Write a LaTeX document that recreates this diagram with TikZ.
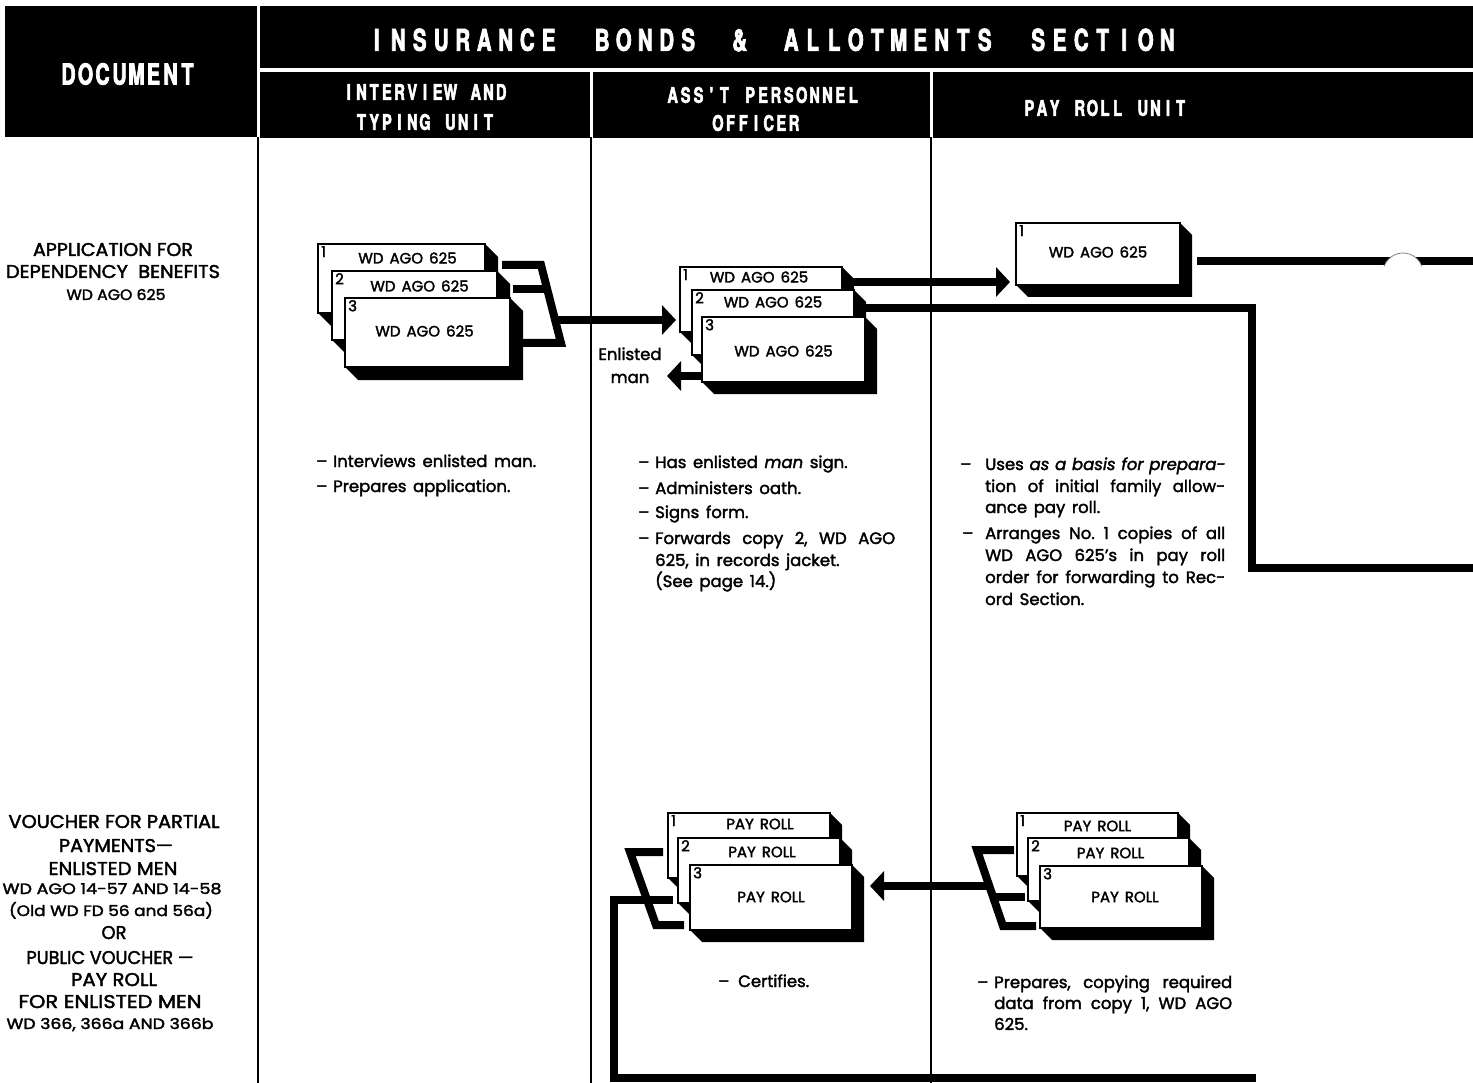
\documentclass[tikz,border=0pt]{standalone}
\usepackage{graphicx}
\usepackage{fontspec}
\setmainfont{Poppins}[FakeBold=2.0]
\newfontfamily\hdfont{TeX Gyre Heros}[FakeStretch=0.68, FakeBold=2.4]
\usetikzlibrary{arrows.meta,calc}
\frenchspacing

% evenly pitched capitals for the black header bands
\newlength\hdpitch
\def\hdspl#1{\ifx#1\relax\else\makebox[\hdpitch][c]{#1}\expandafter\hdspl\fi}
\newcommand\hdword[1]{\hdspl#1\relax}

% wider word spaces, as in the printed forms
\newcommand\widespaces{\spaceskip=0.4em plus 0.3em minus 0.05em\relax}
% a caption stretched sideways to a set width
\newcommand\tow[2]{\resizebox{#1pt}{\height}{#2}}

% one form sheet: black slab behind, white face, copy number and title
\newcommand\sheetdepth{12}
\newcommand\docsheet[8]{%
  \fill[black] (#2,#3) -- (#2+#4,#3) -- (#2+#4+\sheetdepth,#3+\sheetdepth)
    -- (#2+#4+\sheetdepth,#3+#5+\sheetdepth) -- (#2+\sheetdepth,#3+#5+\sheetdepth)
    -- (#2,#3+#5) -- cycle;
  \node[sheet, minimum width=#4pt, minimum height=#5pt, anchor=north west] (#1) at (#2,#3) {};
  \node[sheetnum] (#1-n) at (#1.north west) {#6};
  \node[sheettxt] (#1-t) at ($(#1.north)+(#8)$) {#7};
}

\tikzset{
  hdtxt/.style={text=white, font=\hdfont\bfseries, inner sep=0pt},
  sheet/.style={draw, fill=white, line width=1.4pt, inner sep=0pt, outer sep=0pt},
  sheetnum/.style={anchor=north west, inner sep=2pt, xshift=1pt, font=\fontsize{15}{15}\selectfont},
  sheettxt/.style={inner sep=0pt, font=\fontsize{15}{15}\selectfont\widespaces},
  bar/.style={line width=8pt, line join=miter, line cap=butt},
  barrow/.style={bar, -{Triangle[length=14pt,width=29pt]}},
  colline/.style={line width=2pt},
  txt/.style={anchor=base west, inner sep=0pt, font=\fontsize{16.5}{18}\selectfont\widespaces},
  doclbl/.style={anchor=base, inner sep=0pt, font=\fontsize{18.5}{18.5}\selectfont},
  docsub/.style={anchor=base, inner sep=0pt, font=\fontsize{15}{15}\selectfont},
}

\begin{document}
\begin{tikzpicture}[x=1pt,y=-1pt]
\useasboundingbox (0,0) rectangle (1473,1083);
\fill[white] (0,0) rectangle (1473,1083);

% ---------- header bands ----------
\fill (5,6) rectangle (257,137);
\fill (260,6) rectangle (1473,68);
\fill (260,72) rectangle (590,138);
\fill (593,72) rectangle (930,138);
\fill (933,72) rectangle (1473,138);

\node[hdtxt] (hdDoc) at (128,74)
  {\fontsize{29}{29}\selectfont\setlength\hdpitch{17pt}\hdword{DOCUMENT}};
\node[hdtxt] (hdTitle) at (772,40)
  {\fontsize{30}{30}\selectfont\setlength\hdpitch{21.5pt}%
   \hdword{INSURANCE}\hspace{32pt}\hdword{BONDS}\hspace{30pt}\hdword{\&}\hspace{30pt}%
   \hdword{ALLOTMENTS}\hspace{32pt}\hdword{SECTION}};
\node[hdtxt] (hdIntA) at (425,92)
  {\fontsize{21.5}{21.5}\selectfont\setlength\hdpitch{12.7pt}\hdword{INTERVIEW}\hspace{\hdpitch}\hdword{AND}};
\node[hdtxt] (hdIntB) at (425,122)
  {\fontsize{21.5}{21.5}\selectfont\setlength\hdpitch{12.7pt}\hdword{TYPING}\hspace{\hdpitch}\hdword{UNIT}};
\node[hdtxt] (hdAsstA) at (763,95)
  {\fontsize{21.5}{21.5}\selectfont\setlength\hdpitch{12.9pt}\hdword{ASS'T}\hspace{\hdpitch}\hdword{PERSONNEL}};
\node[hdtxt] (hdAsstB) at (756,123)
  {\fontsize{21.5}{21.5}\selectfont\setlength\hdpitch{12.7pt}\hdword{OFFICER}};
\node[hdtxt] (hdPay) at (1105,108)
  {\fontsize{21.5}{21.5}\selectfont\setlength\hdpitch{12.6pt}\hdword{PAY}\hspace{\hdpitch}\hdword{ROLL}\hspace{\hdpitch}\hdword{UNIT}};

% ---------- column rules ----------
\draw[colline] (258,137) -- (258,1083);
\draw[colline] (591,137) -- (591,1083);
\draw[colline] (931,137) -- (931,1083);

% ---------- document names ----------
\node[doclbl] (appA) at (113,256) {\tow{160}{APPLICATION FOR}};
\node[doclbl] (appB) at (113,278) {\tow{214}{DEPENDENCY\ \ BENEFITS}};
\node[docsub] (appC) at (116,300) {\tow{99}{WD AGO 625}};

\node[doclbl] (vA) at (114,828) {\tow{211}{VOUCHER FOR PARTIAL}};
\node[doclbl] (vB) at (116,852) {\tow{114}{PAYMENTS—}};
\node[doclbl] (vC) at (113,875) {\tow{129}{ENLISTED MEN}};
\node[docsub] (vD) at (112,894) {\tow{219}{WD AGO 14-57 AND 14-58}};
\node[docsub] (vE) at (111,916) {\tow{204}{(Old WD FD 56 and 56a)}};
\node[doclbl] (vF) at (114,939) {\tow{25}{OR}};
\node[doclbl] (vG) at (110,964) {\tow{167}{PUBLIC VOUCHER —}};
\node[doclbl] (vH) at (114,986) {\tow{86}{PAY ROLL}};
\node[doclbl] (vI) at (110,1008) {\tow{183}{FOR ENLISTED MEN}};
\node[docsub] (vJ) at (110,1029) {\tow{207}{WD 366, 366a AND 366b}};

% ---------- WD AGO 625 copies ----------
\renewcommand\sheetdepth{13}
\docsheet{a1}{318}{244}{167}{69}{1}{WD AGO 625}{6,14}
\docsheet{a2}{332}{271}{165}{69}{2}{WD AGO 625}{5,15}
\docsheet{a3}{345}{298}{165}{69}{3}{WD AGO 625}{-3,33}

\renewcommand\sheetdepth{12}
\docsheet{b1}{680}{267}{162}{65}{1}{WD AGO 625}{-2,10}
\docsheet{b2}{692}{290}{162}{65}{2}{WD AGO 625}{0,12}
\docsheet{b3}{702}{317}{163}{65}{3}{WD AGO 625}{0,34}

\docsheet{c1}{1016}{223}{164}{62}{1}{WD AGO 625}{0,29}

% ---------- pay roll copies ----------
\docsheet{d1}{668}{813}{162}{65}{1}{PAY ROLL}{11,11}
\docsheet{d2}{678}{838}{162}{65}{2}{PAY ROLL}{3,14}
\docsheet{d3}{690}{865}{162}{65}{3}{PAY ROLL}{0,32}

\docsheet{e1}{1017}{813}{161}{63}{1}{PAY ROLL}{0,13}
\docsheet{e2}{1028}{838}{161}{63}{2}{PAY ROLL}{2,15}
\docsheet{e3}{1040}{866}{162}{62}{3}{PAY ROLL}{4,31}

% ---------- connectors, first form ----------
\coordinate (aT) at (541,265);
\coordinate (aB) at (561,343);
\coordinate (aM) at (548,289);
\coordinate (aE) at (554,320);
\draw[bar] ([xshift=17pt]a1.east |- aT) -- (aT) -- (aB) -- ([xshift=12pt]a3.east |- aB);
\draw[bar] ([xshift=16pt]a2.east |- aM) -- (aM);
\draw[barrow, shorten >=4pt] (aE) -- (b1.west |- aE);

\coordinate (bA) at (0,282);
\draw[barrow, shorten >=6pt] (b1.east |- bA) -- (c1.west |- bA);

\coordinate (bR) at (1252,308);
\coordinate (bD) at (1252,568);
\coordinate (bX) at (1473,568);
\draw[bar] (b2.east |- bR) -- (bR) -- (bD) -- (bX);

\coordinate (en) at (667,376);
\draw[barrow] (b3.west |- en) -- (en);
\node[txt, anchor=base] (enA) at (630,360) {Enlisted};
\node[txt, anchor=base] (enB) at (630,383) {man};

\coordinate (cL) at (0,261);
\coordinate (cX) at (1473,261);
\draw[bar] ([xshift=17pt]c1.east |- cL) -- (cX);
\fill[white] (1403,273) circle[radius=20];
\draw[line width=0.8pt, gray] ($(1403,273)+(200:20)$) arc[start angle=200, end angle=340, radius=20];

% ---------- connectors, pay roll ----------
\coordinate (eT) at (977,850);
\coordinate (eB) at (1003,926);
\coordinate (eM) at (993,897);
\coordinate (eX) at (990,886);
\coordinate (eTip) at (870,886);
\draw[bar] ([xshift=-3pt]e1.west |- eT) -- (eT) -- (eB) -- ([xshift=-4pt]e3.west |- eB);
\draw[bar] ([xshift=-3pt]e2.west |- eM) -- (eM);
\draw[barrow] (eX) -- (eTip);

\coordinate (dT) at (630,852);
\coordinate (dB) at (656,925);
\coordinate (dM) at (647,900);
\coordinate (dL) at (614,900);
\coordinate (dLB) at (614,1078);
\coordinate (dRB) at (1256,1078);
\draw[bar] ([xshift=-5pt]d1.west |- dT) -- (dT) -- (dB) -- ([xshift=-6pt]d3.west |- dB);
\draw[bar] ([xshift=-5pt]d2.west |- dM) -- (dM) -- (dL) -- (dLB) -- (dRB);

% ---------- duties ----------
\node[txt] (iA) at (316,467) {\makebox[17pt][l]{–}Interviews enlisted man.};
\node[txt] (iB) at (316,492) {\makebox[17pt][l]{–}Prepares application.};

\node[txt] (oA) at (638,468) {\makebox[17pt][l]{–}Has enlisted \textit{man} sign.};
\node[txt] (oB) at (638,494) {\makebox[17pt][l]{–}Administers oath.};
\node[txt] (oC) at (638,518) {\makebox[17pt][l]{–}Signs form.};
\node[txt] (oD) at (638,544) {\makebox[17pt][l]{–}\makebox[240pt][s]{Forwards copy 2, WD AGO}};
\node[txt] (oE) at (655,566) {625, in records jacket.};
\node[txt] (oF) at (655,587) {(See page 14.)};

\node[txt] (pA) at (960,470) {\makebox[25pt][l]{–}\makebox[240pt][s]{Uses \textit{as a basis for prepara-}}};
\node[txt] (pB) at (985,492) {\makebox[240pt][s]{tion of initial family allow-}};
\node[txt] (pC) at (985,513) {ance pay roll.};
\node[txt] (pD) at (962,539) {\makebox[23pt][l]{–}\makebox[240pt][s]{Arranges No. 1 copies of all}};
\node[txt] (pE) at (985,561) {\makebox[240pt][s]{WD AGO 625’s in pay roll}};
\node[txt] (pF) at (985,583) {\makebox[240pt][s]{order for forwarding to Rec-}};
\node[txt] (pG) at (985,605) {ord Section.};

\node[txt] (cert) at (718,987) {\makebox[20pt][l]{–}Certifies.};

\node[txt] (qA) at (977,988) {\makebox[17pt][l]{–}\makebox[238pt][s]{Prepares, copying required}};
\node[txt] (qB) at (994,1009) {\makebox[238pt][s]{data from copy 1, WD AGO}};
\node[txt] (qC) at (994,1030) {625.};
\end{tikzpicture}
\end{document}
